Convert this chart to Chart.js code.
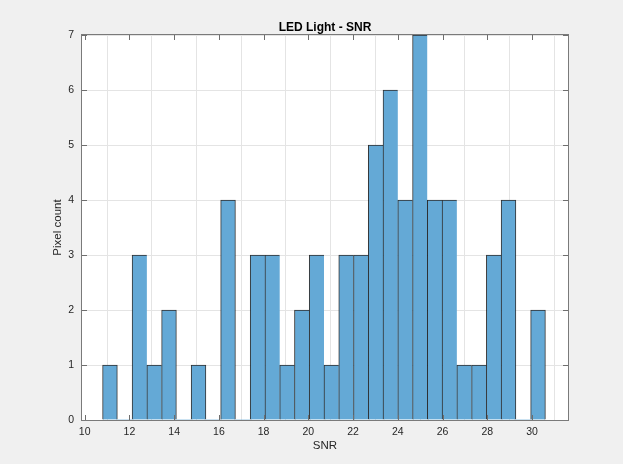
<!DOCTYPE html>
<html>
<head>
<meta charset="utf-8">
<title>LED Light - SNR</title>
<script src="https://cdn.jsdelivr.net/npm/chart.js@4.4.1/dist/chart.umd.min.js"></script>
<style>
  html, body { margin: 0; padding: 0; background: #f0f0f0; }
  #wrap { width: 623px; height: 464px; }
</style>
</head>
<body>
<div id="wrap"><canvas id="hist" width="623" height="464"></canvas></div>
<script>
// Histogram of per-pixel SNR for the LED light source
const binFirstEdge = 10.80;   // left edge of the first bin (dB)
const binWidth = 0.66;        // bin width (dB)
const pixelCounts = [1, 0, 3, 1, 2, 0, 1, 0, 4, 0, 3, 3, 1, 2, 3, 1, 3, 3, 5, 6, 4, 7, 4, 4, 1, 1, 3, 4, 0, 2];

const xLimits = [9.88, 31.61];
const xTickValues = [10, 12, 14, 16, 18, 20, 22, 24, 26, 28, 30];
const yLimits = [0, 7];
const yTickValues = [0, 1, 2, 3, 4, 5, 6, 7];

const chartTitle = 'LED Light - SNR';
const xLabel = 'SNR';
const yLabel = 'Pixel count';

const FONT = "'Liberation Sans', Arial, Helvetica, sans-serif";
const TEXT = '#262626';

const points = pixelCounts.map((c, i) => ({ x: binFirstEdge + (i + 0.5) * binWidth, y: c }));

// Figure background, white axes area, box outline, inward tick marks and
// a title centred over the axes area
const axesDecor = {
  id: 'axesDecor',
  beforeDraw(chart) {
    const { ctx, chartArea: a } = chart;
    ctx.save();
    ctx.fillStyle = '#f0f0f0';
    ctx.fillRect(0, 0, chart.width, chart.height);
    ctx.fillStyle = '#ffffff';
    ctx.fillRect(a.left, a.top, a.right - a.left, a.bottom - a.top);
    ctx.restore();
  },
  afterDatasetsDraw(chart) {
    const { ctx, chartArea: a, scales } = chart;
    const tl = 5;
    ctx.save();
    ctx.strokeStyle = '#6e6e6e';
    ctx.lineWidth = 1;
    ctx.beginPath();
    scales.x.ticks.forEach(t => {
      const px = Math.round(scales.x.getPixelForValue(t.value)) + 0.5;
      ctx.moveTo(px, a.bottom); ctx.lineTo(px, a.bottom - tl);
      ctx.moveTo(px, a.top); ctx.lineTo(px, a.top + tl);
    });
    scales.y.ticks.forEach(t => {
      const py = Math.round(scales.y.getPixelForValue(t.value)) + 0.5;
      ctx.moveTo(a.left, py); ctx.lineTo(a.left + tl, py);
      ctx.moveTo(a.right, py); ctx.lineTo(a.right - tl, py);
    });
    ctx.stroke();
    ctx.strokeStyle = '#7a7a7a';
    ctx.strokeRect(Math.round(a.left) - 0.5, Math.round(a.top) - 0.5,
                   Math.round(a.right - a.left) + 1, Math.round(a.bottom - a.top) + 1);
    ctx.restore();
  },
  afterDraw(chart) {
    const { ctx, chartArea: a } = chart;
    ctx.save();
    ctx.fillStyle = '#000000';
    ctx.font = 'bold 12px ' + FONT;
    ctx.textAlign = 'center';
    ctx.textBaseline = 'alphabetic';
    ctx.fillText(chartTitle, (a.left + a.right) / 2, a.top - 4);
    ctx.restore();
  }
};

new Chart(document.getElementById('hist'), {
  type: 'bar',
  data: {
    datasets: [{
      data: points,
      backgroundColor: '#64a9d6',
      borderColor: 'rgba(0,0,0,0.8)',
      borderSkipped: false,
      borderWidth(ctx) {
        const i = ctx.dataIndex;
        const v = pixelCounts[i];
        if (!v) return 0;
        const nextEmpty = i === pixelCounts.length - 1 || !pixelCounts[i + 1];
        return { top: 1, left: 1, right: nextEmpty ? 1 : 0, bottom: 0 };
      },
      barPercentage: 1,
      categoryPercentage: 1
    }]
  },
  options: {
    responsive: false,
    animation: false,
    layout: { padding: { left: 0, right: 55, top: 35, bottom: 0 } },
    plugins: {
      legend: { display: false },
      tooltip: { enabled: false },
      title: { display: false }
    },
    scales: {
      x: {
        type: 'linear',
        min: xLimits[0],
        max: xLimits[1],
        offset: false,
        afterBuildTicks(scale) { scale.ticks = xTickValues.map(v => ({ value: v })); },
        afterFit(scale) { scale.height = 44; },
        ticks: { color: TEXT, padding: 6, font: { family: FONT, size: 10.5 }, maxRotation: 0, autoSkip: false },
        grid: { color: '#e4e4e4', drawTicks: false },
        border: { display: false },
        title: { display: true, text: xLabel, color: TEXT, font: { family: FONT, size: 11.5, lineHeight: 1.2 }, padding: { top: 0, bottom: 11 } }
      },
      y: {
        min: yLimits[0],
        max: yLimits[1],
        afterBuildTicks(scale) { scale.ticks = yTickValues.map(v => ({ value: v })); },
        afterFit(scale) { scale.width = 82; },
        ticks: { color: TEXT, padding: 8, font: { family: FONT, size: 10.5 } },
        grid: { color: '#e4e4e4', drawTicks: false },
        border: { display: false },
        title: { display: true, text: yLabel, color: TEXT, font: { family: FONT, size: 11.5, lineHeight: 1.2 }, padding: { top: 51, bottom: 0 } }
      }
    }
  },
  plugins: [axesDecor]
});
</script>
</body>
</html>
